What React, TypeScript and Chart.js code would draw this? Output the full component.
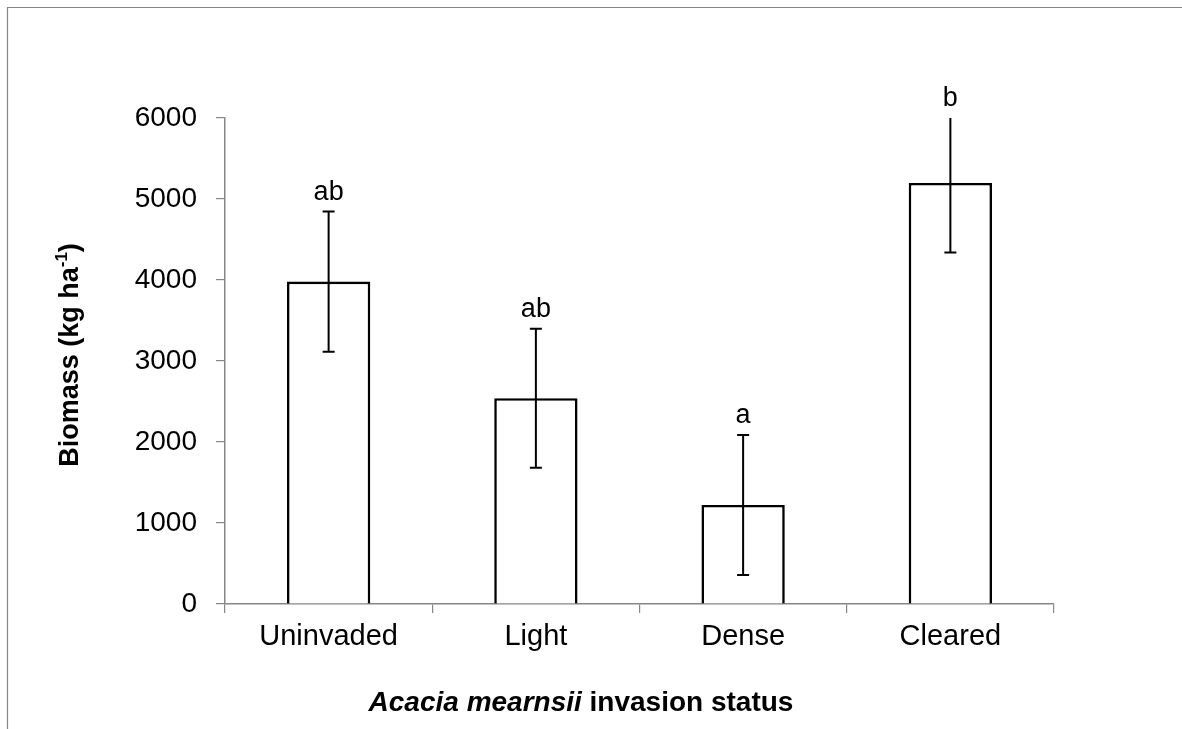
import React, { useEffect, useRef } from "react";
import { Chart, registerables } from "chart.js";

Chart.register(...registerables);

const categories = ["Uninvaded", "Light", "Dense", "Cleared"];
const biomass = [3980, 2540, 1222, 5198];
const stdErr = [865, 858, 865, 858];
const letters = ["ab", "ab", "a", "b"];
const yMin = 0;
const yMax = 6000;
const yStep = 1000;

const FONT = '"Liberation Sans", Arial, Helvetica, sans-serif';
const AXIS_GRAY = "#868686";

const framePlugin = {
  id: "frame",
  beforeDraw(chart: any) {
    const ctx = chart.ctx;
    ctx.save();
    ctx.fillStyle = "#ffffff";
    ctx.fillRect(0, 0, chart.width, chart.height);
    ctx.strokeStyle = AXIS_GRAY;
    ctx.lineWidth = 1.2;
    ctx.beginPath();
    ctx.moveTo(7.5, chart.height);
    ctx.lineTo(7.5, 7.5);
    ctx.lineTo(chart.width, 7.5);
    ctx.stroke();
    ctx.restore();
  },
};

const errorBarPlugin = {
  id: "errorBars",
  afterDatasetsDraw(chart: any) {
    const ctx = chart.ctx;
    const meta = chart.getDatasetMeta(0);
    const yScale = chart.scales.y;
    const area = chart.chartArea;
    meta.data.forEach((bar: any, i: number) => {
      const x = bar.x;
      const yTop = yScale.getPixelForValue(biomass[i] + stdErr[i]);
      const yBot = yScale.getPixelForValue(biomass[i] - stdErr[i]);
      ctx.save();
      ctx.beginPath();
      ctx.rect(area.left, area.top, area.right - area.left, area.bottom - area.top);
      ctx.clip();
      ctx.strokeStyle = "#000000";
      ctx.lineWidth = 2;
      ctx.beginPath();
      ctx.moveTo(x, yTop);
      ctx.lineTo(x, yBot);
      ctx.moveTo(x - 6, yTop);
      ctx.lineTo(x + 6, yTop);
      ctx.moveTo(x - 6, yBot);
      ctx.lineTo(x + 6, yBot);
      ctx.stroke();
      ctx.restore();

      ctx.save();
      ctx.fillStyle = "#000000";
      ctx.font = `27px ${FONT}`;
      ctx.textAlign = "center";
      ctx.textBaseline = "alphabetic";
      const ly = Math.max(yTop, area.top) - 12;
      ctx.fillText(letters[i], x, ly);
      ctx.restore();
    });
  },
};

const titlesPlugin = {
  id: "axisTitles",
  afterDraw(chart: any) {
    const ctx = chart.ctx;
    ctx.save();
    ctx.fillStyle = "#000000";
    ctx.textBaseline = "middle";

    // Y axis title with superscript
    const main = "Biomass (kg ha";
    const sup = "-1";
    const close = ")";
    const big = `bold 27px ${FONT}`;
    const small = `bold 17px ${FONT}`;
    ctx.font = big;
    const wMain = ctx.measureText(main).width;
    const wClose = ctx.measureText(close).width;
    ctx.font = small;
    const wSup = ctx.measureText(sup).width;
    const total = wMain + wSup + wClose;
    ctx.translate(71, 355);
    ctx.rotate(-Math.PI / 2);
    ctx.textAlign = "left";
    let cx = -total / 2;
    ctx.font = big;
    ctx.fillText(main, cx, 0);
    cx += wMain;
    ctx.font = small;
    ctx.fillText(sup, cx, -9);
    cx += wSup;
    ctx.font = big;
    ctx.fillText(close, cx, 0);
    ctx.setTransform(1, 0, 0, 1, 0, 0);

    // X axis title with italic species name
    const p1 = "Acacia mearnsii";
    const p2 = " invasion status";
    const f1 = `italic bold 28px ${FONT}`;
    const f2 = `bold 28px ${FONT}`;
    ctx.font = f1;
    const w1 = ctx.measureText(p1).width;
    ctx.font = f2;
    const w2 = ctx.measureText(p2).width;
    let sx = 581 - (w1 + w2) / 2;
    ctx.font = f1;
    ctx.fillText(p1, sx, 703);
    sx += w1;
    ctx.font = f2;
    ctx.fillText(p2, sx, 703);
    ctx.restore();
  },
};

export default function App() {
  const canvasRef = useRef<HTMLCanvasElement | null>(null);

  useEffect(() => {
    document.body.style.margin = "0";
    const canvas = canvasRef.current;
    if (!canvas) return;
    const chart = new Chart(canvas, {
      type: "bar",
      data: {
        labels: categories,
        datasets: [
          {
            data: biomass,
            backgroundColor: "#ffffff",
            borderColor: "#000000",
            borderWidth: 2.6,
            borderSkipped: "start",
            categoryPercentage: 1,
            barPercentage: 0.402,
          },
        ],
      },
      options: {
        responsive: false,
        animation: false,
        devicePixelRatio: 1,
        layout: { padding: { top: 118, right: 128, bottom: 0, left: 0 } },
        plugins: {
          legend: { display: false },
          tooltip: { enabled: false },
          title: { display: false },
        },
        scales: {
          x: {
            z: 1,
            grid: {
              offset: true,
              drawOnChartArea: false,
              drawTicks: true,
              tickLength: 9,
              color: AXIS_GRAY,
              lineWidth: 1.2,
            },
            border: { display: true, color: AXIS_GRAY, width: 1.5 },
            ticks: {
              color: "#000000",
              font: { family: FONT, size: 29 },
              padding: 7,
              maxRotation: 0,
            },
            afterFit: (scale: any) => {
              scale.height = 125;
            },
          },
          y: {
            min: yMin,
            max: yMax,
            grid: {
              drawOnChartArea: false,
              drawTicks: true,
              tickLength: 9,
              color: AXIS_GRAY,
              lineWidth: 1.2,
            },
            border: { display: true, color: AXIS_GRAY, width: 1.5 },
            ticks: {
              stepSize: yStep,
              color: "#000000",
              font: { family: FONT, size: 28 },
              padding: 19,
              callback: (v: any) => String(v),
            },
            afterFit: (scale: any) => {
              scale.width = 225;
            },
          },
        },
      },
      plugins: [framePlugin, errorBarPlugin, titlesPlugin],
    });
    return () => chart.destroy();
  }, []);

  return (
    <div style={{ position: "absolute", left: 0, top: 0, width: 1182, height: 729 }}>
      <canvas ref={canvasRef} width={1182} height={729} style={{ width: 1182, height: 729, display: "block" }} />
    </div>
  );
}
